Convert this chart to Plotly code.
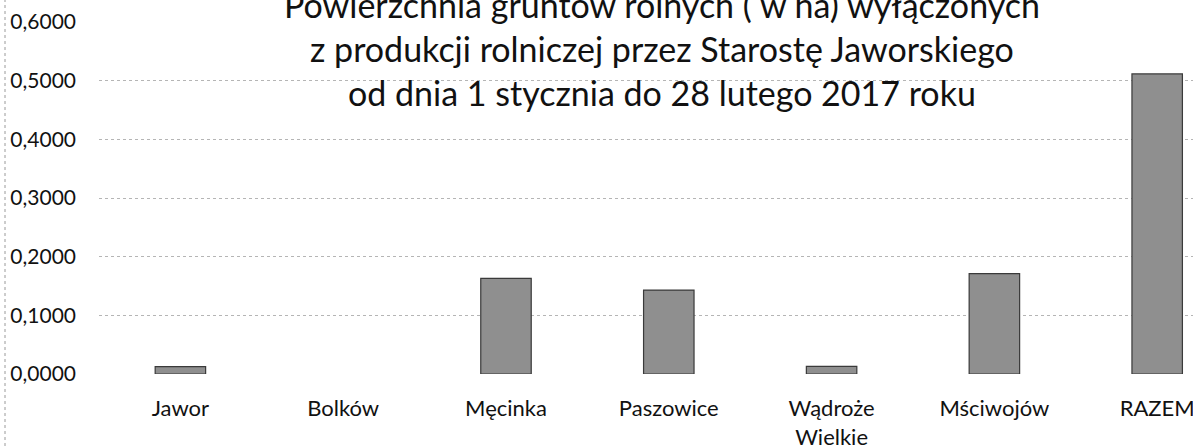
import plotly.graph_objects as go

categories = ["Jawor", "Bolków", "Męcinka", "Paszowice", "Wądroże<br>Wielkie", "Mściwojów", "RAZEM"]
values = [0.0125, 0.0, 0.163, 0.143, 0.013, 0.171, 0.5115]
tick_vals = [0.0, 0.1, 0.2, 0.3, 0.4, 0.5, 0.6]
tick_text = ["0,0000", "0,1000", "0,2000", "0,3000", "0,4000", "0,5000", "0,6000"]
title_lines = [
    "Powierzchnia gruntów rolnych ( w ha) wyłączonych",
    "z produkcji rolniczej przez Starostę Jaworskiego",
    "od dnia 1 stycznia do 28 lutego 2017 roku",
]

W, H = 1193, 446
ML, MR, MT, MB = 99, 0, 22, 72
PW, PH = W - ML - MR, H - MT - MB

FONT = "Lato"

fig = go.Figure()
fig.add_trace(go.Bar(
    x=list(range(len(categories))),
    y=values,
    width=0.31,
    marker=dict(color="#8f8f8f",
                line=dict(color="#3a3a3a", width=[1.2 if v > 0 else 0 for v in values])),
))

fig.update_layout(
    width=W, height=H,
    margin=dict(l=ML, r=MR, t=MT, b=MB, pad=0, autoexpand=False),
    paper_bgcolor="white", plot_bgcolor="white",
    showlegend=False,
    font=dict(family=FONT, color="#111111"),
)
fig.update_xaxes(
    range=[-0.5, 6.22],
    tickmode="array",
    tickvals=list(range(len(categories))),
    ticktext=categories,
    tickfont=dict(size=22, family=FONT, color="#111111"),
    showgrid=False, zeroline=False, showline=False,
    ticks="", ticklabelstandoff=19, automargin=False,
    ticklabeloverflow="allow",
)
fig.update_yaxes(
    range=[0, 0.6],
    tickmode="array",
    tickvals=tick_vals,
    ticktext=tick_text,
    tickfont=dict(size=21, family=FONT, color="#111111"),
    showgrid=True, gridcolor="#b5b5b5", griddash="dot", gridwidth=1,
    zeroline=False, showline=False, ticks="", ticklabelstandoff=22,
    automargin=False, ticklabeloverflow="allow",
)

title_y_px = [4, 48, 93]
for line, ypx in zip(title_lines, title_y_px):
    fig.add_annotation(
        text=line, xref="paper", yref="paper",
        x=(662 - ML) / PW, y=(H - MB - ypx) / PH,
        xanchor="center", yanchor="middle", showarrow=False,
        font=dict(size=34, family=FONT, color="#111111"),
    )

# left chart border (dotted)
fig.add_shape(
    type="line", xref="paper", yref="paper",
    x0=(5 - ML) / PW, x1=(5 - ML) / PW,
    y0=-MB / PH, y1=1 + MT / PH,
    line=dict(color="#9a9a9a", width=1, dash="dot"),
)

fig.write_html(
    "out.html",
    config={"displayModeBar": False},
    post_script="document.body.style.margin='0';document.body.style.overflow='hidden';",
)
